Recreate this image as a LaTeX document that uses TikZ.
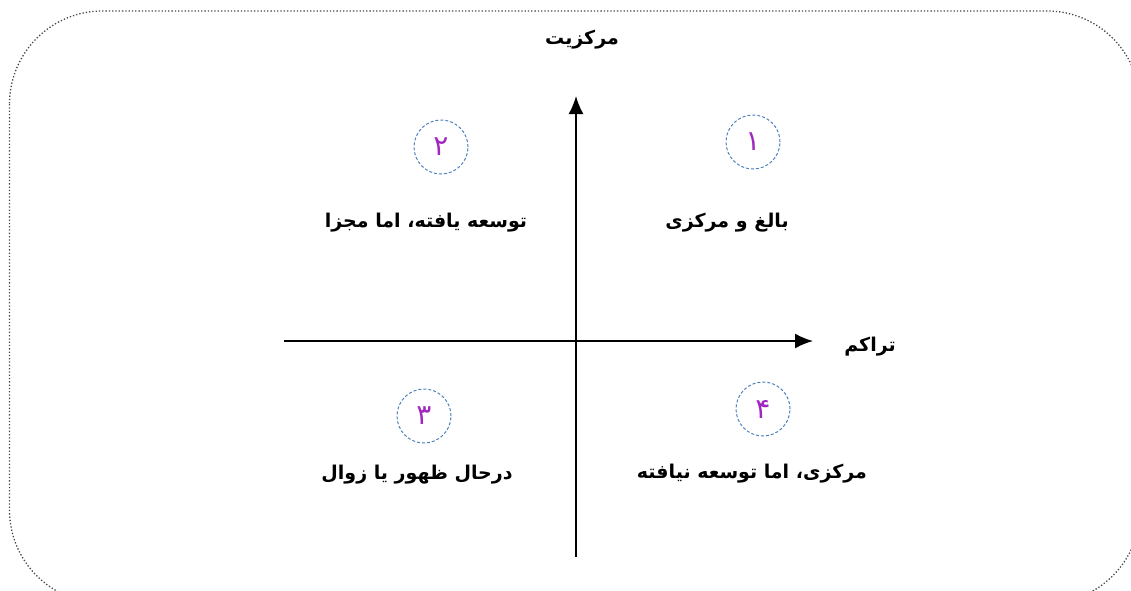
\documentclass[tikz,border=0pt]{standalone}
\usepackage{fontspec}
\newfontfamily\arabicfont[Script=Arabic]{DejaVu Sans}
\TeXXeTstate=1
\usetikzlibrary{arrows.meta}
\definecolor{framegray}{RGB}{70,70,70}
\definecolor{ringblue}{RGB}{79,129,189}
\definecolor{digitpurple}{RGB}{160,40,190}

\begin{document}
\begin{tikzpicture}[x=1pt, y=-1pt]
    \tikzstyle{ring} = [circle, draw=ringblue, densely dashed, line width=1pt, minimum size=54pt, inner sep=0pt, text=digitpurple, font=\arabicfont\fontsize{28}{32}\selectfont]
    \tikzstyle{quadrant} = [inner sep=0pt, font=\arabicfont\bfseries\fontsize{19}{22}\selectfont]
    \tikzstyle{axislabel} = [inner sep=0pt, font=\arabicfont\bfseries\fontsize{19}{22}\selectfont]
    \tikzstyle{axis} = [line width=1.8pt, -{Latex[length=18pt, width=15pt]}]

    \useasboundingbox (0,0) rectangle (1131,590);

    % Frame
    \draw [framegray, dotted, line width=1.3pt, rounded corners=93pt] (9.5,11) rectangle (1140,603);

    % Axes
    \coordinate (west) at (284,341);
    \coordinate (east) at (813,341);
    \coordinate (south) at (576,557);
    \coordinate (north) at (576,96);
    \draw [axis] (west) -- (east);
    \draw [axis] (south) -- (north);

    \node [axislabel] (centrality) at (582,40) {\beginR مرکزیت\endR};
    \node [axislabel] (density) at (870,347) {\beginR تراکم\endR};

    % Quadrants
    \node [ring] (one) at (753,142) {\beginR ۱\endR};
    \node [ring] (two) at (441,147) {\beginR ۲\endR};
    \node [ring] (three) at (424,416) {\beginR ۳\endR};
    \node [ring] (four) at (763,409) {\beginR ۴\endR};

    \node [quadrant] (mature) at (727,223) {\beginR بالغ و مرکزی\endR};
    \node [quadrant] (isolated) at (426,223) {\beginR توسعه یافته، اما مجزا\endR};
    \node [quadrant] (emerging) at (417,475) {\beginR درحال ظهور یا زوال\endR};
    \node [quadrant] (undeveloped) at (752,474) {\beginR مرکزی، اما توسعه نیافته\endR};
\end{tikzpicture}
\end{document}
